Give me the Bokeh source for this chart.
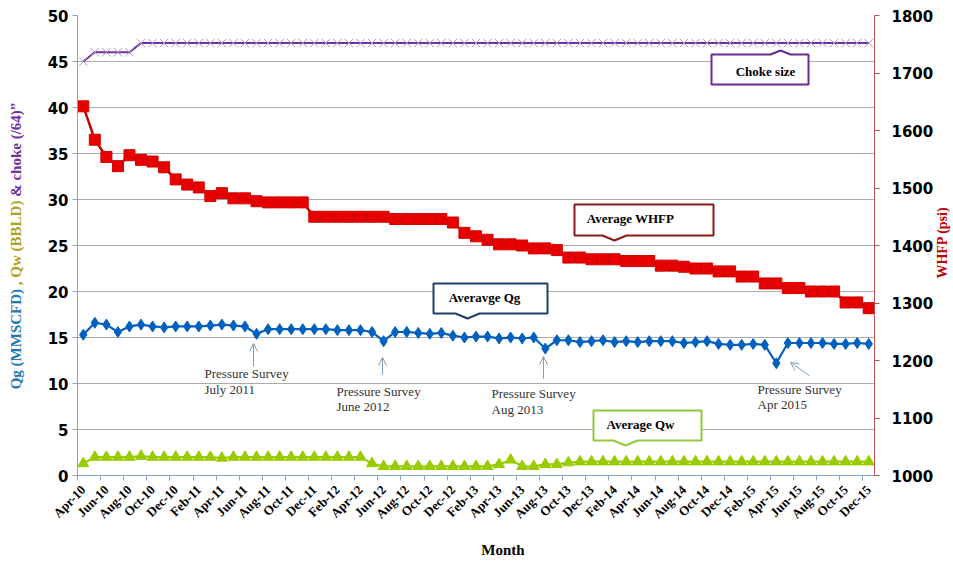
import math
from bokeh.plotting import figure
from bokeh.layouts import row, column
from bokeh.models import (Range1d, LinearAxis, FixedTicker, Label, Arrow, OpenHead,
                          PolyAnnotation, Div)
from bokeh.embed import file_html
from bokeh.resources import INLINE

# ---------------- data ----------------
months = ["Apr-10", "May-10", "Jun-10", "Jul-10", "Aug-10", "Sep-10", "Oct-10", "Nov-10", "Dec-10",
          "Jan-11", "Feb-11", "Mar-11", "Apr-11", "May-11", "Jun-11", "Jul-11", "Aug-11", "Sep-11",
          "Oct-11", "Nov-11", "Dec-11", "Jan-12", "Feb-12", "Mar-12", "Apr-12", "May-12", "Jun-12",
          "Jul-12", "Aug-12", "Sep-12", "Oct-12", "Nov-12", "Dec-12", "Jan-13", "Feb-13", "Mar-13",
          "Apr-13", "May-13", "Jun-13", "Jul-13", "Aug-13", "Sep-13", "Oct-13", "Nov-13", "Dec-13",
          "Jan-14", "Feb-14", "Mar-14", "Apr-14", "May-14", "Jun-14", "Jul-14", "Aug-14", "Sep-14",
          "Oct-14", "Nov-14", "Dec-14", "Jan-15", "Feb-15", "Mar-15", "Apr-15", "May-15", "Jun-15",
          "Jul-15", "Aug-15", "Sep-15", "Oct-15", "Nov-15", "Dec-15"]

qg = [15.3, 16.6, 16.4, 15.6, 16.2, 16.4, 16.2, 16.1, 16.2, 16.2, 16.2, 16.3, 16.4, 16.3, 16.2,
      15.4, 15.9, 15.9, 15.9, 15.9, 15.9, 15.9, 15.8, 15.8, 15.8, 15.6, 14.6, 15.6, 15.6, 15.5,
      15.4, 15.5, 15.2, 15.0, 15.1, 15.1, 14.9, 15.0, 14.9, 15.0, 13.8, 14.7, 14.7, 14.5, 14.6,
      14.7, 14.5, 14.6, 14.5, 14.6, 14.6, 14.6, 14.4, 14.5, 14.6, 14.3, 14.2, 14.2, 14.3, 14.2,
      12.2, 14.4, 14.4, 14.4, 14.4, 14.3, 14.3, 14.4, 14.3]

qw = [1.3, 2.0, 2.0, 2.0, 2.0, 2.1, 2.0, 2.0, 2.0, 2.0, 2.0, 2.0, 1.9, 2.0, 2.0,
      2.0, 2.0, 2.0, 2.0, 2.0, 2.0, 2.0, 2.0, 2.0, 2.0, 1.3, 1.0, 1.0, 1.0, 1.0,
      1.0, 1.0, 1.0, 1.0, 1.0, 1.0, 1.2, 1.7, 1.0, 1.0, 1.2, 1.2, 1.4, 1.5, 1.5,
      1.5, 1.5, 1.5, 1.5, 1.5, 1.5, 1.5, 1.5, 1.5, 1.5, 1.5, 1.5, 1.5, 1.5, 1.5,
      1.5, 1.5, 1.5, 1.5, 1.5, 1.5, 1.5, 1.5, 1.5]

choke = [45, 46, 46, 46, 46, 47, 47, 47, 47, 47, 47, 47, 47, 47, 47,
         47, 47, 47, 47, 47, 47, 47, 47, 47, 47, 47, 47, 47, 47, 47,
         47, 47, 47, 47, 47, 47, 47, 47, 47, 47, 47, 47, 47, 47, 47,
         47, 47, 47, 47, 47, 47, 47, 47, 47, 47, 47, 47, 47, 47, 47,
         47, 47, 47, 47, 47, 47, 47, 47, 47]

whfp = [1642, 1584, 1554, 1538, 1557, 1549, 1546, 1536, 1515, 1506, 1501, 1486, 1491, 1482, 1482,
        1477, 1475, 1475, 1475, 1475, 1450, 1450, 1450, 1450, 1450, 1450, 1450, 1446, 1446, 1446,
        1446, 1446, 1440, 1422, 1416, 1410, 1402, 1402, 1400, 1395, 1395, 1392, 1379, 1379, 1376,
        1376, 1376, 1373, 1373, 1373, 1365, 1365, 1363, 1360, 1360, 1355, 1355, 1346, 1346, 1334,
        1334, 1326, 1326, 1320, 1320, 1320, 1301, 1301, 1291]

left_ticks = [0, 5, 10, 15, 20, 25, 30, 35, 40, 45, 50]
right_ticks = [1000, 1100, 1200, 1300, 1400, 1500, 1600, 1700, 1800]

surveys = [("Pressure Survey", "July 2011"), ("Pressure Survey", "June 2012"),
           ("Pressure Survey", "Aug 2013"), ("Pressure Survey", "Apr 2015")]

# ---------------- layout ----------------
N = len(months)
xs = [i + 0.5 for i in range(N)]
FL, FT, FW, FH = 77, 15, 797, 460   # frame in reference picture pixels
DIVW = 30                            # width of the left title strip
RB = 62                              # right border of the figure
RDIVW = 16                           # width of the right title strip
BB = 62                              # bottom border of the figure
MONTH_H = 24                         # height of the strip holding "Month"
TOTAL_W = DIVW + (FL - DIVW) + FW + RB + RDIVW
FIG_H = FT + FH + BB


def X(px):
    return (px - FL) / FW * N


def Y(py):
    return (FT + FH - py) / FH * 50


SERIF = "Liberation Serif"
SANS = "DejaVu Sans"

p = figure(frame_width=FW, frame_height=FH, x_range=Range1d(0, N), y_range=Range1d(0, 50),
           output_backend="svg", toolbar_location=None,
           min_border_left=FL - DIVW, min_border_right=RB, min_border_top=FT, min_border_bottom=BB)
p.outline_line_color = None
p.background_fill_color = "white"
p.border_fill_color = "white"
p.extra_y_ranges = {"p": Range1d(1000, 1800)}

AX = "#88A4C0"

# left axis
la = p.yaxis[0]
la.ticker = FixedTicker(ticks=left_ticks)
la.axis_line_color = AX
la.major_tick_line_color = AX
la.major_tick_out = 5
la.major_tick_in = 0
la.minor_tick_line_color = None
la.major_label_text_font = SANS
la.major_label_text_font_style = "bold"
la.major_label_text_font_size = "15px"
la.major_label_text_color = "black"
la.major_label_standoff = 4

# bottom axis
ba = p.xaxis[0]
ba.ticker = FixedTicker(ticks=[i + 0.5 for i in range(0, N, 2)],
                        minor_ticks=[i for i in range(0, N + 1, 2)])
ba.major_label_overrides = {i + 0.5: months[i] for i in range(0, N, 2)}
ba.major_label_orientation = math.pi / 4
ba.axis_line_color = AX
ba.major_tick_line_color = None
ba.minor_tick_line_color = AX
ba.minor_tick_out = 5
ba.minor_tick_in = 0
ba.major_label_text_font = SERIF
ba.major_label_text_font_style = "bold"
ba.major_label_text_font_size = "13px"
ba.major_label_text_color = "black"
ba.major_label_standoff = 6

# right axis
ra = LinearAxis(y_range_name="p", ticker=FixedTicker(ticks=right_ticks))
ra.axis_line_color = "#C0504D"
ra.major_tick_line_color = "#C0504D"
ra.major_tick_out = 5
ra.major_tick_in = 0
ra.minor_tick_line_color = None
ra.major_label_text_font = SANS
ra.major_label_text_font_style = "bold"
ra.major_label_text_font_size = "15px"
ra.major_label_text_color = "black"
ra.major_label_standoff = 12
p.add_layout(ra, "right")

p.xgrid.visible = False
p.ygrid.ticker = FixedTicker(ticks=left_ticks)
p.ygrid.grid_line_color = "#ACACAC"
p.ygrid.grid_line_width = 1

# ---------------- series ----------------
p.line(xs, qg, line_color="#0060C0", line_width=2.2)
p.scatter(xs, qg, marker="diamond", size=11, fill_color="#0060C0", line_color="#0060C0")

p.line(xs, qw, line_color="#99CC00", line_width=2.2)
p.scatter(xs, qw, marker="triangle", size=11, fill_color="#99CC00", line_color="#99CC00")

p.line(xs, choke, line_color="#7030A0", line_width=2)
p.scatter(xs, choke, marker="x", size=12, line_color="#A898C0", line_width=1)

p.line(xs, whfp, y_range_name="p", line_color="#C00000", line_width=2.5)
p.scatter(xs, whfp, y_range_name="p", marker="square", size=11,
          fill_color="#E60000", line_color="#D00000")

# ---------------- callouts ----------------
callouts = [
    # (x0, y0, x1, y1, notch_side, notch_x, notch_tip, text, text_x, text_y, colour)
    (711, 54, 808, 84, "top", 780, 50, "Choke size", 765, 71, "#6A2C91"),
    (574, 204, 713, 235, "bottom", 614, 240, "Average WHFP", 630, 218, "#8B1A1A"),
    (433, 283, 547, 313, "bottom", 467, 318, "Averavge Qg", 484, 297, "#1F3F6B"),
    (593, 410, 701, 440, "bottom", 625, 445, "Average Qw", 640, 424, "#92C83E"),
]
for x0, y0, x1, y1, side, nx, tip, txt, tx, ty, col in callouts:
    if side == "top":
        pts = [(x0, y0), (nx - 10, y0), (nx, tip), (nx + 10, y0), (x1, y0), (x1, y1), (x0, y1)]
    else:
        pts = [(x0, y0), (x1, y0), (x1, y1), (nx + 12, y1), (nx, tip), (nx - 12, y1), (x0, y1)]
    p.add_layout(PolyAnnotation(xs=[X(a) for a, b in pts], ys=[Y(b) for a, b in pts],
                                fill_color="white", fill_alpha=1.0,
                                line_color=col, line_alpha=1.0, line_width=2))
    p.add_layout(Label(x=X(tx), y=Y(ty), text=txt, text_font=SERIF, text_font_style="bold",
                       text_font_size="13px", text_color="black",
                       text_align="center", text_baseline="middle"))

# ---------------- pressure survey notes ----------------
notes_pos = [
    # (text_x, line1_y, line2_y, arrow start, arrow end)
    (204, 373, 389, (253, 366), (253, 343)),
    (336, 391, 406, (382, 374), (382, 357)),
    (491, 393, 409, (543, 378), (543, 356)),
    (757, 389, 404, (809, 375), (790, 362)),
]
for (l1, l2), (tx, y1, y2, a0, a1) in zip(surveys, notes_pos):
    for t, yy in ((l1, y1), (l2, y2)):
        p.add_layout(Label(x=X(tx), y=Y(yy), text=t, text_font=SERIF,
                           text_font_size="13px", text_color="#333333",
                           text_align="left", text_baseline="middle"))
    p.add_layout(Arrow(x_start=X(a0[0]), y_start=Y(a0[1]), x_end=X(a1[0]), y_end=Y(a1[1]),
                       line_color="#7F9CBC", line_width=1,
                       end=OpenHead(size=8, line_color="#7F9CBC", line_width=1)))


# ---------------- titles outside the plot (HTML strips) ----------------
FONT_CSS = "font-family:'Liberation Serif';font-weight:bold;line-height:1;white-space:nowrap;"


def strip(spans_html, width, height, cx, cy, size, rotate):
    tf = "translate(-50%%,-50%%)%s" % (" rotate(-90deg)" if rotate else "")
    html = ('<div style="position:relative;width:%dpx;height:%dpx;">'
            '<div style="position:absolute;left:%dpx;top:%dpx;transform:%s;%sfont-size:%dpx;">'
            '%s</div></div>') % (width, height, cx, cy, tf, FONT_CSS, size, spans_html)
    return Div(text=html, width=width, height=height, margin=0)


title_parts = [("Qg (MMSCFD)", "#1F78B4"), (" , Qw (BBLD)", "#B0A020"),
               (" &amp; choke (/64)\u201d", "#7030A0")]
left_spans = "".join('<span style="color:%s">%s</span>' % (c, t) for t, c in title_parts)
left_title = strip(left_spans, DIVW, FIG_H, 16, 246, 15, True)

right_left_edge = DIVW + (FL - DIVW) + FW + RB
right_title = strip('<span style="color:#C00000">WHFP (psi)</span>', RDIVW, FIG_H,
                    943 - right_left_edge, 243, 14, True)

month_title = strip('<span style="color:black">Month</span>', TOTAL_W, MONTH_H,
                    503, 550 - FIG_H, 15, False)

layout = column(row(left_title, p, right_title, spacing=0), month_title, spacing=0)

open("out.html", "w").write(file_html(layout, INLINE))
